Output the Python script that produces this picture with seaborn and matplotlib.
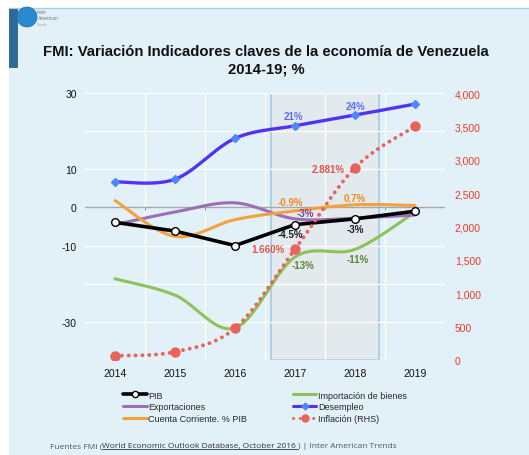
import numpy as np
import matplotlib
matplotlib.use("Agg")
import matplotlib.pyplot as plt
import seaborn as sns
from matplotlib.lines import Line2D
from matplotlib.patches import Rectangle, Ellipse

# ---------------- data ----------------
years = ["2014", "2015", "2016", "2017", "2018", "2019"]
pib = [-3.9, -6.2, -10.0, -4.5, -3.0, -1.0]
importacion = [-18.7, -23.0, -31.6, -13.0, -11.0, -1.2]
exportaciones = [-4.5, -1.2, 1.2, -3.0, -2.8, -2.0]
cuenta_corriente = [1.8, -7.6, -3.2, -0.9, 0.7, 0.5]
desempleo = [6.7, 7.4, 18.1, 21.4, 24.2, 27.1]
inflacion = [62, 122, 476, 1660, 2881, 3500]

left_ticks = [30, 10, 0, -10, -30]
right_ticks = [0, 500, 1000, 1500, 2000, 2500, 3000, 3500, 4000]

title = "FMI: Variación Indicadores claves de la economía de Venezuela\n2014-19; %"

# ---------------- helpers ----------------
def smooth(xs, ys, n=30):
    pts = np.column_stack([xs, ys]).astype(float)
    P = np.vstack([pts[0], pts, pts[-1]])
    t = np.linspace(0, 1, n)
    out = []
    for i in range(len(pts) - 1):
        p0, p1, p2, p3 = P[i], P[i + 1], P[i + 2], P[i + 3]
        c1 = p1 + (p2 - p0) / 6
        c2 = p2 - (p3 - p1) / 6
        seg = (((1 - t) ** 3)[:, None] * p1 + (3 * (1 - t) ** 2 * t)[:, None] * c1
               + (3 * (1 - t) * t ** 2)[:, None] * c2 + (t ** 3)[:, None] * p2)
        out.append(seg if i == 0 else seg[1:])
    s = np.vstack(out)
    return s[:, 0], s[:, 1]

sns.set_theme(style="white")
plt.rcParams["font.family"] = ["Liberation Sans", "DejaVu Sans"]

BG = "#E1F1F7"
fig = plt.figure(figsize=(5.29, 4.56), dpi=100)
fig.patch.set_facecolor("white")
W, H = 529, 456

def fx(px):
    return px / W

def fy(py):
    return 1 - py / H

# background panel
fig.patches.append(Rectangle((fx(9), 0), 1 - fx(9), fy(9), transform=fig.transFigure,
                             facecolor=BG, edgecolor="none", zorder=-10))
fig.lines.append(Line2D([fx(9), 1], [fy(9), fy(9)], transform=fig.transFigure,
                        color="#A9CDE3", lw=1.0, zorder=-5))
fig.patches.append(Rectangle((fx(9), fy(68)), fx(8), fy(10) - fy(68), transform=fig.transFigure,
                             facecolor="#2D6A9C", edgecolor="#1E4F78", lw=0.5, zorder=-4))
# logo
fig.patches.append(Ellipse((fx(27), fy(18)), 20 / W, 20 / H, transform=fig.transFigure,
                           facecolor="#2A8AD0", edgecolor="#1B6FAE", lw=0.5, zorder=-3))
fig.text(fx(37), fy(13), "Inter", fontsize=3.5, style="italic", color="#6A7A8A", va="center")
fig.text(fx(37), fy(19), "American", fontsize=3.5, style="italic", color="#6A7A8A", va="center")
fig.text(fx(37), fy(25), "Trends", fontsize=2.5, color="#9AA8B5", va="center")

fig.text(fx(266), fy(61), title, ha="center", va="center", fontsize=10.7,
         fontweight="bold", color="#111111", linespacing=1.3)

# ---------------- axes ----------------
ax = fig.add_axes([fx(85), fy(361), fx(445) - fx(85), fy(94) - fy(361)])
ax.set_facecolor("none")
for s in ax.spines.values():
    s.set_visible(False)
ax.set_xlim(-0.5, 5.5)
ax.set_ylim(-40, 30)

for yv in range(-40, 31, 10):
    ax.axhline(yv, color="white", lw=0.9, zorder=1)
for xv in [0.5, 1.5, 2.5, 3.5, 4.5]:
    ax.axvline(xv, color="white", lw=0.9, zorder=1)
ax.axhline(0, color="#A7A7A7", lw=1.0, zorder=2)
for xv in [0.5, 1.5, 2.5, 3.5, 4.5]:
    ax.plot([xv, xv], [0, -0.8], color="#A7A7A7", lw=0.8, zorder=2)

ax.add_patch(Rectangle((2.6, -40), 1.8, 70, facecolor="#E3EAEE", edgecolor="#A6C9E2",
                       lw=1.2, zorder=0.5))

x = np.arange(len(years))

ax.set_xticks(x)
ax.set_xticklabels(years, fontsize=7.5, color="#111111")
ax.set_yticks(left_ticks)
ax.set_yticklabels([str(v) for v in left_ticks], fontsize=7.5, color="#111111")
ax.tick_params(axis="both", length=0, pad=6)

# smooth series
C_IMP = "#8DC25A"
C_EXP = "#9B6FB8"
C_CC = "#F5A23A"
C_DES = "#5232F5"
C_DESM = "#4F86FF"
C_INF = "#E9625B"

for vals, col, lw in [(importacion, C_IMP, 2.2), (exportaciones, C_EXP, 2.2),
                      (cuenta_corriente, C_CC, 2.2), (desempleo, C_DES, 2.4)]:
    sx, sy = smooth(x, vals)
    sns.lineplot(x=sx, y=sy, ax=ax, color=col, lw=lw, sort=False, estimator=None, zorder=3)

ax.plot(x, desempleo, ls="none", marker="D", ms=4.5, color=C_DESM, zorder=4)

sns.lineplot(x=x, y=pib, ax=ax, color="black", lw=2.6, sort=False, estimator=None, zorder=5)
ax.plot(x, pib, ls="none", marker="o", ms=5.5, mfc="white", mec="black", mew=1.0, zorder=6)

# inflation on right axis
ax2 = ax.twinx()
ax2.set_ylim(0, 4000)
for s in ax2.spines.values():
    s.set_visible(False)
ax2.set_yticks(right_ticks)
ax2.set_yticklabels([f"{v:,}" for v in right_ticks], fontsize=7.5, color="#F0392B")
ax2.tick_params(axis="y", length=0, pad=7)
ix, iy = smooth(x, inflacion)
ax2.plot(ix, iy, color=C_INF, lw=2.8, ls=(0, (0.01, 1.75)), dash_capstyle="round", zorder=3)
ax2.plot(x, inflacion, ls="none", marker="o", ms=6.5, color=C_INF, zorder=4)

# annotations
def ann(xv, yv, s, col):
    ax2.text(xv, (yv + 40) / 70 * 4000, s, ha="center", va="center", fontsize=7,
             fontweight="bold", color=col, zorder=8)

ann(2.97, 24.0, "21%", "#5C6CF5")
ann(4.0, 26.5, "24%", "#5C6CF5")
ann(2.92, 1.3, "-0.9%", "#EF8A1F")
ann(4.0, 2.4, "0.7%", "#EF8A1F")
ann(3.18, -1.5, "-3%", "#7E3D98")
ann(2.92, -7.0, "-4.5%", "#1A1A1A")
ann(4.0, -5.7, "-3%", "#1A1A1A")
ann(2.55, -11.0, "1.660%", "#E0524C")
ann(3.55, 10.2, "2.881%", "#E0524C")
ann(3.13, -15.2, "-13%", "#5F8236")
ann(4.05, -13.4, "-11%", "#5F8236")

# legend
handles = [
    Line2D([], [], color="black", lw=2.6, marker="o", ms=4.5, mfc="white", mec="black"),
    Line2D([], [], color=C_EXP, lw=2.2),
    Line2D([], [], color=C_CC, lw=2.2),
    Line2D([], [], color=C_IMP, lw=2.2),
    Line2D([], [], color=C_DES, lw=2.2, marker="D", ms=3.5, mfc=C_DESM, mec=C_DESM),
    Line2D([], [], color=C_INF, lw=2.2, ls=(0, (0.01, 2.2)), dash_capstyle="round",
           marker="o", ms=5, mfc=C_INF, mec=C_INF),
]
labels = ["PIB", "Exportaciones", "Cuenta Corriente. % PIB",
          "Importación de bienes", "Desempleo", "Inflación (RHS)"]
fig.legend(handles, labels, ncol=2, loc="center", bbox_to_anchor=(fx(265), fy(408)),
           frameon=False, fontsize=6.5, handlelength=2.6, handletextpad=0.15,
           columnspacing=5.1, labelspacing=0.32, borderpad=0)

# footer
fcol = "#555555"
t1 = fig.text(fx(50), fy(447), "Fuentes FMI (", fontsize=6, color=fcol, va="center",
              family=["Open Sans", "DejaVu Sans"])
fig.canvas.draw()
r = fig.canvas.get_renderer()
bb = t1.get_window_extent(r)
t2 = fig.text(bb.x1 / W, fy(447), "World Economic Outlook Database, October 2016 ", fontsize=6,
              color="#333333", va="center", family=["Open Sans", "DejaVu Sans"])
bb2 = t2.get_window_extent(r)
fig.lines.append(Line2D([bb2.x0 / W, bb2.x1 / W], [bb2.y0 / H + 0.002, bb2.y0 / H + 0.002],
                        transform=fig.transFigure, color="#333333", lw=0.6))
fig.text(bb2.x1 / W, fy(447), ") | Inter American Trends", fontsize=6, color=fcol,
         va="center", family=["Open Sans", "DejaVu Sans"])

fig.savefig("out.png", dpi=100, facecolor=fig.get_facecolor())
